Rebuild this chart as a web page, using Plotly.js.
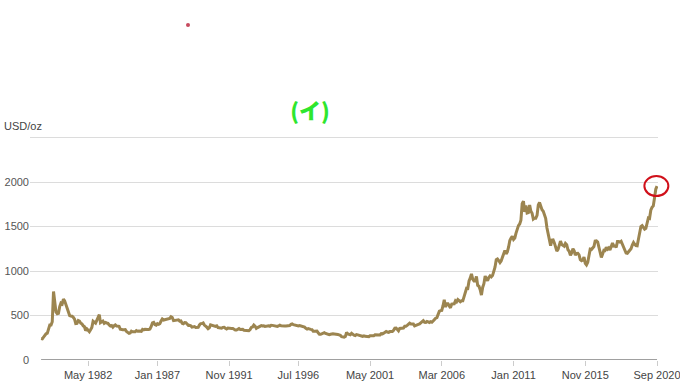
<!DOCTYPE html>
<html>
<head>
<meta charset="utf-8">
<script src="https://cdn.plot.ly/plotly-3.0.1.min.js"></script>
<style>html,body{margin:0;padding:0;background:#fff;}#chart{width:680px;height:390px;}</style>
</head>
<body>
<div id="chart"></div>
<script>
// Monthly gold price (USD/oz), starting March 1979
var startYear = 1979, startMonth = 3;
var price = [
  242, 239, 257, 279, 295, 301, 355, 392, 392, 430,               // 1979 (Mar-Dec)
  770, 640, 540, 520, 525, 600, 640, 630, 685, 665, 625, 595,     // 1980
  550, 500, 495, 492, 480, 460, 410, 412, 443, 437, 413, 405,     // 1981
  384, 374, 330, 350, 334, 318, 340, 365, 436, 423, 414, 445,     // 1982
  480, 510, 420, 432, 438, 413, 422, 416, 412, 394, 382, 388,     // 1983
  370, 386, 394, 381, 377, 378, 347, 348, 341, 340, 341, 320,     // 1984
  303, 299, 304, 324, 317, 317, 317, 330, 323, 326, 325, 322,     // 1985
  345, 339, 346, 340, 342, 343, 348, 376, 418, 423, 398, 391,     // 1986
  408, 401, 408, 438, 460, 449, 451, 461, 460, 465, 467, 486,     // 1987
  477, 442, 443, 452, 451, 452, 437, 440, 413, 407, 420, 419,     // 1988
  404, 388, 390, 385, 369, 368, 375, 365, 362, 367, 394, 409,     // 1989
  410, 417, 393, 374, 369, 352, 362, 395, 389, 381, 381, 378,     // 1990
  384, 364, 363, 358, 357, 367, 368, 357, 349, 359, 360, 361,     // 1991
  354, 354, 345, 338, 337, 341, 353, 343, 345, 344, 335, 334,     // 1992
  329, 329, 330, 342, 367, 372, 392, 379, 355, 364, 373, 383,     // 1993
  387, 382, 384, 377, 381, 385, 385, 380, 391, 389, 384, 379,     // 1994
  379, 377, 382, 391, 385, 387, 386, 383, 383, 383, 386, 387,     // 1995
  400, 405, 397, 393, 392, 385, 383, 387, 383, 381, 378, 369,     // 1996
  355, 347, 352, 344, 344, 341, 324, 324, 323, 325, 306, 289,     // 1997
  289, 297, 296, 308, 299, 292, 293, 284, 289, 296, 294, 292,     // 1998
  287, 288, 286, 282, 277, 262, 256, 257, 265, 311, 293, 284,     // 1999
  284, 300, 286, 280, 275, 286, 282, 275, 273, 270, 266, 272,     // 2000
  266, 262, 263, 261, 272, 270, 268, 273, 283, 283, 276, 276,     // 2001
  282, 296, 294, 302, 314, 321, 314, 310, 319, 317, 319, 333,     // 2002
  357, 359, 340, 328, 355, 356, 351, 360, 379, 379, 389, 407,     // 2003
  414, 405, 406, 404, 384, 392, 398, 401, 406, 420, 439, 442,     // 2004
  424, 423, 434, 429, 422, 431, 424, 438, 457, 470, 476, 510,     // 2005
  549, 555, 557, 610, 676, 596, 633, 632, 598, 586, 628, 629,     // 2006
  631, 665, 654, 679, 667, 655, 665, 665, 712, 754, 806, 803,     // 2007
  889, 922, 968, 909, 888, 889, 939, 839, 829, 790, 730, 816,     // 2008
  858, 943, 924, 890, 928, 946, 934, 949, 996, 1043, 1127, 1135,  // 2009
  1118, 1095, 1113, 1149, 1205, 1232, 1193, 1215, 1271, 1342, 1370, 1391, // 2010
  1356, 1372, 1424, 1473, 1510, 1529, 1572, 1756, 1785, 1665, 1738, 1652, // 2011
  1656, 1742, 1673, 1650, 1585, 1596, 1594, 1626, 1744, 1770, 1721, 1688, // 2012
  1671, 1627, 1593, 1487, 1414, 1343, 1286, 1347, 1349, 1316, 1275, 1225, // 2013
  1244, 1300, 1336, 1299, 1288, 1279, 1311, 1296, 1239, 1222, 1176, 1202, // 2014
  1251, 1227, 1179, 1198, 1199, 1181, 1128, 1117, 1125, 1157, 1086, 1068, // 2015
  1097, 1200, 1246, 1242, 1260, 1276, 1337, 1340, 1326, 1266, 1238, 1152, // 2016
  1192, 1234, 1231, 1266, 1246, 1260, 1236, 1283, 1315, 1280, 1283, 1265, // 2017
  1331, 1331, 1325, 1335, 1303, 1282, 1238, 1202, 1199, 1215, 1221, 1250, // 2018
  1291, 1320, 1301, 1286, 1284, 1359, 1413, 1500, 1511, 1495, 1471, 1480, // 2019
  1560, 1597, 1592, 1683, 1715, 1732, 1820, 1920, 1955            // 2020 (Jan-Sep)
];
var tickDates = ['1982-05-01','1987-01-01','1991-11-01','1996-07-01','2001-05-01','2006-03-01','2011-01-01','2015-11-01','2020-09-01'];
var tickLabels = ['May 1982','Jan 1987','Nov 1991','Jul 1996','May 2001','Mar 2006','Jan 2011','Nov 2015','Sep 2020'];
var yTicks = [0, 500, 1000, 1500, 2000, 2500];
var yLabels = ['0', '500', '1000', '1500', '2000', ''];

var dates = [];
for (var i = 0; i < price.length; i++) {
  var m = startMonth - 1 + i;
  var y = startYear + Math.floor(m / 12);
  var mm = (m % 12) + 1;
  dates.push(y + '-' + (mm < 10 ? '0' : '') + mm + '-01');
}
var lastDate = dates[dates.length - 1];
var lastVal = price[price.length - 1];
var yMax = 2540;
var xStart = '1978-06-01', xEnd = '2020-09-25';

var trace = {
  x: dates, y: price, type: 'scatter', mode: 'lines',
  line: {color: '#9c8550', width: 3}, hoverinfo: 'skip'
};

var layout = {
  width: 680, height: 390,
  margin: {l: 30, r: 22, t: 134, b: 30},
  paper_bgcolor: '#fff', plot_bgcolor: '#fff',
  showlegend: false,
  font: {family: 'Liberation Sans, Arial, sans-serif', size: 11, color: '#555'},
  title: {
    text: '(イ)',
    font: {family: 'Noto Sans CJK JP, sans-serif', size: 22, color: '#2ee62e', weight: 900},
    x: 310 / 680, xanchor: 'center', xref: 'container',
    y: 1 - 111 / 390, yanchor: 'middle', yref: 'container'
  },
  xaxis: {
    type: 'date',
    range: [xStart, xEnd],
    tickmode: 'array', tickvals: tickDates, ticktext: tickLabels,
    ticks: 'outside', ticklen: 5, tickcolor: '#ccc', tickwidth: 1,
    ticklabeloverflow: 'allow',
    showgrid: false, zeroline: false, showline: false,
    tickfont: {family: 'Liberation Sans, Arial, sans-serif', size: 11, color: '#444'},
    fixedrange: true
  },
  yaxis: {
    range: [0, yMax],
    tickmode: 'array', tickvals: yTicks, ticktext: yLabels,
    showgrid: true, gridcolor: '#dcdcdc', gridwidth: 1,
    zeroline: false, showline: false, ticks: '', ticklen: 0,
    tickfont: {family: 'Liberation Sans, Arial, sans-serif', size: 11, color: '#555'},
    fixedrange: true
  },
  shapes: [
    {type: 'line', xref: 'x', yref: 'y', x0: dates[0], x1: lastDate, y0: 0, y1: 0,
     line: {color: '#a0a0a0', width: 2}, layer: 'above'},
    {type: 'circle', xref: 'paper', yref: 'paper', xsizemode: 'pixel', ysizemode: 'pixel',
     xanchor: 0.999, yanchor: lastVal / yMax, x0: -13, x1: 11, y0: -10, y1: 10,
     line: {color: '#d0101a', width: 2}},
    {type: 'circle', xref: 'paper', yref: 'paper', xsizemode: 'pixel', ysizemode: 'pixel',
     xanchor: (188 - 30) / 628, yanchor: (360 - 25) / 226, x0: -2, x1: 2, y0: -2, y1: 2,
     fillcolor: '#c74a5e', line: {color: '#c74a5e', width: 0}}
  ],
  annotations: [
    {text: 'USD/oz', xref: 'paper', yref: 'paper', x: -28 / 628, y: (360 - 126) / 226,
     xanchor: 'left', yanchor: 'middle', showarrow: false,
     font: {family: 'Liberation Sans, Arial, sans-serif', size: 11, color: '#444'}}
  ]
};

Plotly.newPlot('chart', [trace], layout, {staticPlot: true, displayModeBar: false});
</script>
</body>
</html>
